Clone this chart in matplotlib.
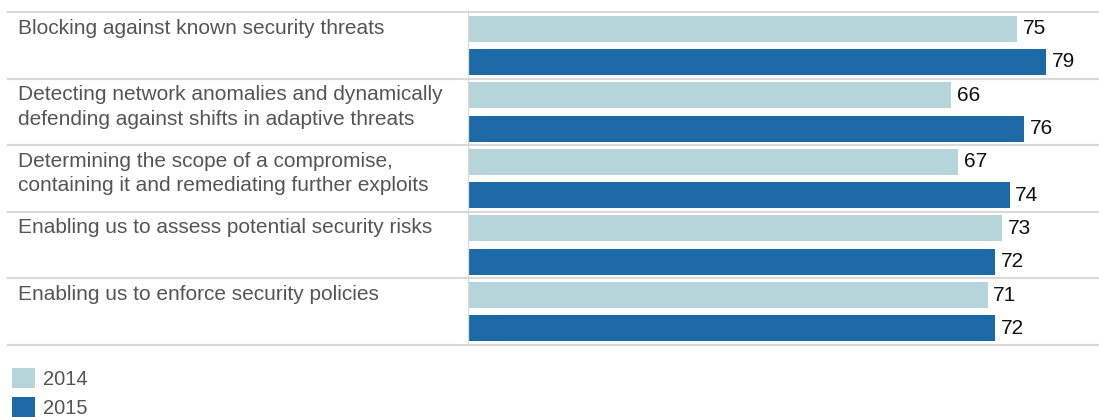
import numpy as np
import matplotlib.pyplot as plt
from matplotlib.transforms import blended_transform_factory

categories = [
    "Blocking against known security threats",
    "Detecting network anomalies and dynamically\ndefending against shifts in adaptive threats",
    "Determining the scope of a compromise,\ncontaining it and remediating further exploits",
    "Enabling us to assess potential security risks",
    "Enabling us to enforce security policies",
]
vals_2014 = [75, 66, 67, 73, 71]
vals_2015 = [79, 76, 74, 72, 72]
series = ["2014", "2015"]
colors = ["#b5d5da", "#1c69a8"]

plt.rcParams['font.family'] = ['Liberation Sans', 'DejaVu Sans']

W, H = 1099, 417
fig = plt.figure(figsize=(W / 100, H / 100), dpi=100)
left, right, top, bottom = 468, 1099, 12, 345
ax = fig.add_axes([left / W, 1 - bottom / H, (right - left) / W, (bottom - top) / H])

n = len(categories)
rows = np.arange(n)
bh = 0.39
b1 = ax.barh(rows + 0.25, vals_2014, height=bh, color=colors[0], label=series[0])
b2 = ax.barh(rows + 0.75, vals_2015, height=bh, color=colors[1], label=series[1])

for bars, vals in [(b1, vals_2014), (b2, vals_2015)]:
    for b, v in zip(bars, vals):
        ax.annotate(str(v), (v, b.get_y() + b.get_height() / 2), xytext=(4, 0),
                    textcoords="offset points", va="center", ha="left",
                    fontsize=15, color="#111111")

ax.set_xlim(0, 86.2)
ax.set_ylim(n, 0)
for s in ax.spines.values():
    s.set_visible(False)
ax.set_xticks([])
ax.set_yticks([])
ax.axvline(0, color="#d9d9d9", lw=1)

# separators across the whole width
xmin = (8 - left) / (right - left)
for y in range(n + 1):
    ax.axhline(y, xmin=xmin, xmax=1, color="#d9d9d9", lw=1.5, clip_on=False)

trans = blended_transform_factory(fig.transFigure, ax.transData)
for i, cat in enumerate(categories):
    fig.text(18 / W, i + 0.1, cat, transform=trans, ha="left", va="top",
             fontsize=15, color="#555555", linespacing=1.35)

fig.legend(handles=[b1, b2], labels=series, loc="upper left",
           bbox_to_anchor=(4 / W, 1 - 360 / H), frameon=False, fontsize=14.5,
           handlelength=1.15, handleheight=1.15, handletextpad=0.4,
           labelspacing=0.42, labelcolor="#555555", borderaxespad=0)

fig.savefig("out.png", dpi=100)
